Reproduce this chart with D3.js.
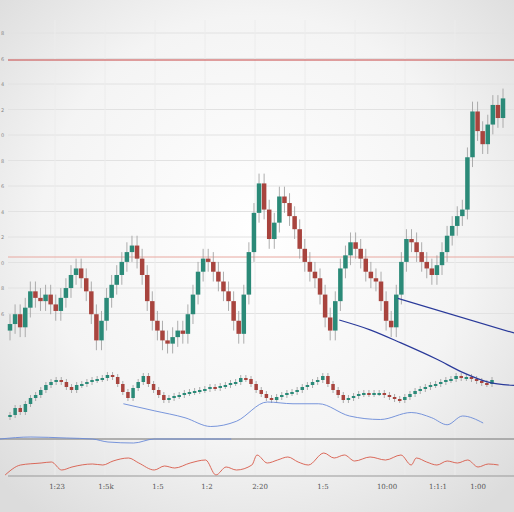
<!DOCTYPE html>
<html><head><meta charset="utf-8">
<script src="https://cdn.jsdelivr.net/npm/d3@7"></script>
<style>body{margin:0;background:#fff}svg{display:block}</style>
</head><body><svg id="chart"></svg>
<script>
// main panel closes (price units)
const mainCloses = [11,14,10,16,21, 19,18,20, 17,15,19,22,26,28, 25,21,14,6, 12,19,23, 26,30,33,35,
  31,26,18,12, 9,6,5,7, 9,8,14,20,27,31, 30,27,24,21,18, 12,8, 20,33,45,54, 46,37,42,50,48,44,
  40,34,30,27,25, 20,13,9,18,28, 32,36,34,31,27,25,24, 18,12,10, 20,30,37, 36,33,30,28,26,29,33,38,
  41,44,46, 62,76, 70,66,72,78,74,80];
// lower panel closes
const subCloses = [5,12,8,16,22,25, 30,35,38,40, 38,33,30,35, 36,38,40,41,42,45,43, 36,28,22, 32,38,44,
  36,30,25,20, 22,24,25,27,28,29,30, 31,33,32,34,35,37,38,42,41, 36,30,26,22,20, 23,25,27,28,
  30,33,35,38,40,44, 36,30,25,20, 22,24,26,27,26,27,27, 25,23,21,20, 23,26,29,31,33,35,
  36,38,40,41,44,42,43, 41,39,37,36,40];
// overlay lines: [x position 0-100, value]
const navyA = [[77.4,11],[100,0]];
const navyB = [[66,12],[72,9],[78,5],[85,0],[90,-4],[95,-7],[100,-8]];
const blueSub = [[24,5],[30,1],[36,-3],[41,-8],[46,-5],[52,6],[57,5],[62,5],[68,-2],[74,-4],[80,0],[84,-3],[87,-7],[90,-2],[94,-6]];
const blueFlat = [[0,-1],[6,1],[13,0],[18,-1],[21,-4],[26,-5],[30,-1],[45,-1]];
const redLine = [[1,0],[4,10],[8,12],[10,13],[12,5],[14,8],[18,11],[20,10],[22,14],[25,17],[27,12],[30,5],[32,9],[34,7],[37,12],[40,15],[42,0],[44,8],[46,5],[49,10],[50,20],[52,12],[54,15],[56,18],[58,13],[60,10],[63,22],[65,17],[67,20],[69,14],[72,18],[75,15],[78,20],[80,10],[81,17],[83,13],[85,10],[87,14],[89,12],[91,15],[93,8],[95,11],[97,10]];
const xLabels = ["1:23","1:5k","1:5","1:2","2:20","1:5","10:00","1:1:1","1:00"];
const yLabels = ["8","6","4","2","0","8","6","4","2","0","8","6"];

const W = 514, H = 512;
const svg = d3.select('#chart').attr('width', W).attr('height', H);
const defs = svg.append('defs');
const bg = defs.append('radialGradient').attr('id', 'bg').attr('cx', '50%').attr('cy', '45%').attr('r', '70%');
bg.append('stop').attr('offset', '0%').attr('stop-color', '#ffffff');
bg.append('stop').attr('offset', '60%').attr('stop-color', '#f4f4f4');
bg.append('stop').attr('offset', '100%').attr('stop-color', '#dcdcdc');
svg.append('rect').attr('width', W).attr('height', H).attr('fill', 'url(#bg)');

// grid
const gridY = d3.range(12).map(i => 33 + i * 25.5);
svg.append('g').selectAll('line').data(gridY).enter().append('line')
  .attr('x1', 8).attr('x2', W).attr('y1', d => d).attr('y2', d => d)
  .attr('stroke', '#e2e2e2').attr('stroke-width', 1);
svg.append('g').selectAll('line').data(d3.range(9)).enter().append('line')
  .attr('x1', d => 55 + d * 50).attr('x2', d => 55 + d * 50).attr('y1', 20).attr('y2', 475)
  .attr('stroke', '#ececec').attr('stroke-width', 1);
svg.append('g').selectAll('text').data(yLabels).enter().append('text')
  .attr('x', 1).attr('y', (d, i) => gridY[i] + 2).attr('font-size', 5)
  .attr('font-family', 'DejaVu Sans').attr('fill', '#888').text(d => d);
[60, 257].forEach(y => svg.append('line').attr('x1', 8).attr('x2', W).attr('y1', y).attr('y2', y)
  .attr('stroke', y < 100 ? '#c84444' : '#e8a8a0').attr('stroke-width', 1));

const green = '#2b8a78', red = '#a8443e';
function candles(closes, x0, x1, y, bw, wick) {
  const x = d3.scaleLinear().domain([0, closes.length - 1]).range([x0, x1]);
  const data = closes.map((c, i) => {
    const o = i ? closes[i - 1] : c - 2;
    return { i, o, c, h: Math.max(o, c) + wick, l: Math.min(o, c) - wick };
  });
  const g = svg.append('g');
  g.selectAll('.wick').data(data).enter().append('line')
    .attr('x1', d => x(d.i)).attr('x2', d => x(d.i))
    .attr('y1', d => y(d.h)).attr('y2', d => y(d.l))
    .attr('stroke', '#999').attr('stroke-width', 0.8);
  g.selectAll('.body').data(data).enter().append('rect')
    .attr('x', d => x(d.i) - bw / 2).attr('width', bw)
    .attr('y', d => y(Math.max(d.o, d.c)))
    .attr('height', d => Math.max(2, Math.abs(y(d.o) - y(d.c))))
    .attr('fill', d => d.c >= d.o ? green : red);
}
const yMain = d3.scaleLinear().domain([0, 100]).range([360, 33]);
candles(mainCloses, 10, 503, yMain, 4.5, 3);
const ySub = d3.scaleLinear().domain([0, 50]).range([420, 370]);
candles(subCloses, 10, 492, ySub, 3.5, 3);

const xp = d3.scaleLinear().domain([0, 100]).range([0, W]);
function path(pts, y, color, w) {
  svg.append('path').datum(pts)
    .attr('d', d3.line().x(d => xp(d[0])).y(d => y(d[1])).curve(d3.curveMonotoneX))
    .attr('fill', 'none').attr('stroke', color).attr('stroke-width', w);
}
path(navyA, d3.scaleLinear().domain([0, 20]).range([333, 270]), '#2a3a9a', 1.2);
path(navyB, d3.scaleLinear().domain([-10, 12]).range([392, 320]), '#2a3a9a', 1.2);
const yBlue = d3.scaleLinear().domain([-10, 10]).range([430, 395]);
path(blueSub, yBlue, '#6a8ad8', 0.9);
const yFlat = d3.scaleLinear().domain([-10, 10]).range([448, 428]);
svg.append('line').attr('x1', 0).attr('x2', W).attr('y1', yFlat(-1)).attr('y2', yFlat(-1))
  .attr('stroke', '#9a9a9a').attr('stroke-width', 1.5);
path(blueFlat, yFlat, '#6a8ad8', 0.9);
const yRed = d3.scaleLinear().domain([0, 25]).range([475, 450]);
path(redLine, yRed, '#d85a4a', 0.9);

svg.append('line').attr('x1', 8).attr('x2', W).attr('y1', 476).attr('y2', 476)
  .attr('stroke', '#999').attr('stroke-width', 1);
svg.append('g').selectAll('text').data(xLabels).enter().append('text')
  .attr('x', (d, i) => [57, 106, 158, 207, 260, 323, 387, 438, 478][i]).attr('y', 489)
  .attr('text-anchor', 'middle').attr('font-size', 7).attr('font-family', 'DejaVu Serif')
  .attr('fill', '#555').text(d => d);
</script></body></html>
